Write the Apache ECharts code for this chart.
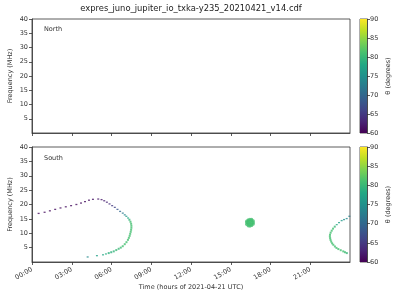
<!DOCTYPE html>
<html>
<head>
<meta charset="utf-8">
<script src="https://cdn.jsdelivr.net/npm/echarts@6/dist/echarts.min.js"></script>
<style>html,body{margin:0;padding:0;background:#fff}#c{width:400px;height:300px}</style>
</head>
<body>
<div id="c"></div>
<script>
// ---- data ----
const titleText = 'expres_juno_jupiter_io_txka-y235_20210421_v14.cdf';
const xTicks = [0, 3, 6, 9, 12, 15, 18, 21];
const freqTicks = [5, 10, 15, 20, 25, 30, 35, 40];
const thetaTicks = [60, 65, 70, 75, 80, 85, 90];
const viridis = ['#440154','#482475','#414487','#355f8d','#2a788e','#21918c','#22a884','#44bf70','#7ad151','#bddf26','#fde725'];

// [time (h), frequency (MHz), theta (deg)]
const northData = [];
const southArcA = [
  [0.5,16.9,61],[0.95,17.3,61],[1.35,17.8,61],[1.75,18.3,61],[2.15,18.8,61],[2.55,19.2,61],
  [2.95,19.6,61],[3.35,20.0,61],[3.7,20.5,61],[4.0,21.0,61],[4.3,21.5,61],[4.6,21.8,61.5],
  [5.0,21.9,62],[5.25,21.7,62],[5.45,21.3,62.5],[5.65,20.8,63],[5.85,20.2,64],[6.05,19.6,65],
  [6.25,19.0,66],[6.45,18.3,68],[6.65,17.6,70],[6.85,17.0,72],[7.0,16.4,74],[7.12,15.9,76],
  [7.25,15.3,78],[7.35,14.7,79.5],[7.43,14.0,81],[7.48,13.3,81],[7.5,12.6,81],[7.5,11.9,81],
  [7.48,11.2,81],[7.45,10.5,81],[7.41,9.8,81],[7.37,9.1,81],[7.31,8.4,81],[7.24,7.7,81],
  [7.13,6.9,81],[7.0,6.2,81],[6.85,5.5,81],[6.7,5.0,80.5],[6.54,4.6,80],[6.36,4.15,80],
  [6.17,3.7,79.5],[5.98,3.4,79],[5.79,3.1,79],[5.58,2.8,78.5],[5.36,2.5,78],[4.9,2.2,77],[4.2,1.75,74]
];
const southBlob = [
  [16.2,13.1,81],[16.2,13.7,81],[16.2,14.2,81],
  [16.32,12.6,81],[16.32,13.2,81],[16.32,13.7,81],[16.32,14.3,81],[16.32,14.7,81],
  [16.45,12.5,81],[16.45,13.0,81],[16.45,13.6,81],[16.45,14.2,81],[16.45,14.8,81],
  [16.58,12.7,81],[16.58,13.2,81],[16.58,13.8,81],[16.58,14.4,81],[16.58,14.8,81],
  [16.7,13.2,81],[16.7,13.7,81],[16.7,14.3,81]
];
const southArcB = [
  [23.95,15.9,73],[23.75,15.1,74],[23.55,14.75,75],[23.37,14.4,76],[23.17,13.7,77],[23.0,13.0,78.5],
  [22.85,12.3,80],[22.72,11.6,81],[22.62,10.9,81],[22.54,10.2,81],[22.49,9.5,81],[22.48,8.9,81],
  [22.5,8.3,81],[22.53,7.7,81],[22.58,7.1,81],[22.65,6.5,81],[22.74,6.0,81],[22.86,5.4,81],
  [22.98,4.9,81],[23.12,4.5,81],[23.3,4.1,81],[23.49,3.7,81],[23.62,3.4,80.5],[23.76,3.1,80]
];

// ---- chart ----
const FS = 6.5, TC = '#333', LC = '#333';
const chart = echarts.init(document.getElementById('c'), null, {renderer: 'canvas'});
const fmtTime = v => String(v).padStart(2, '0') + ':00';
const markSize = v => (v[2] >= 79 ? [2, 2] : [2, 1.3]);

function xAxisCfg(gi, showLabels) {
  return {
    type: 'value', gridIndex: gi, min: 0, max: 24, interval: 3,
    axisLine: {show: true, lineStyle: {color: LC, width: 0.8}},
    axisTick: {show: true, length: 3, customValues: xTicks, lineStyle: {color: LC, width: 0.8}},
    axisLabel: {show: showLabels, customValues: xTicks, formatter: fmtTime, rotate: 30,
      fontSize: FS, color: TC, margin: 7, fontFamily: 'DejaVu Sans'},
    splitLine: {show: false},
    name: showLabels ? 'Time (hours of 2021-04-21 UTC)' : '',
    nameLocation: 'middle', nameGap: 21.5, nameMoveOverlap: false,
    nameTextStyle: {fontSize: FS, color: TC, fontFamily: 'DejaVu Sans'}
  };
}
function yAxisCfg(gi) {
  return {
    type: 'value', gridIndex: gi, min: 0, max: 40, interval: 5,
    axisLine: {show: true, lineStyle: {color: LC, width: 0.8}},
    axisTick: {show: true, length: 3, customValues: freqTicks, lineStyle: {color: LC, width: 0.8}},
    axisLabel: {customValues: freqTicks, fontSize: FS, color: TC, margin: 4, fontFamily: 'DejaVu Sans'},
    splitLine: {show: false},
    name: 'Frequency (MHz)', nameLocation: 'middle', nameGap: 18, nameMoveOverlap: false,
    nameTextStyle: {fontSize: FS, color: TC, fontFamily: 'DejaVu Sans'}
  };
}
function cbXAxis(gi) {
  return {type: 'category', gridIndex: gi, data: ['cb'], show: false};
}
function cbYAxis(gi) {
  return {
    type: 'value', gridIndex: gi, min: 60, max: 90, interval: 5, position: 'right',
    axisLine: {show: true, lineStyle: {color: LC, width: 0.8}},
    axisTick: {show: true, length: 3, lineStyle: {color: LC, width: 0.8}},
    axisLabel: {fontSize: FS, color: TC, margin: 3, fontFamily: 'DejaVu Sans'},
    splitLine: {show: false},
    name: 'θ (degrees)', nameLocation: 'middle', nameGap: 17.5, nameRotate: 90, nameMoveOverlap: false,
    nameTextStyle: {fontSize: FS, color: TC, fontFamily: 'DejaVu Sans'}
  };
}
const grad = new echarts.graphic.LinearGradient(0, 1, 0, 0,
  viridis.map((c, i) => ({offset: i / (viridis.length - 1), color: c})));
function cbSeries(xi, stack) {
  return [
    {type: 'bar', xAxisIndex: xi, yAxisIndex: xi, stack: stack, barWidth: '100%',
     data: [thetaTicks[0]], itemStyle: {color: 'rgba(0,0,0,0)'}, silent: true},
    {type: 'bar', xAxisIndex: xi, yAxisIndex: xi, stack: stack, barWidth: '100%',
     data: [thetaTicks[thetaTicks.length - 1] - thetaTicks[0]], itemStyle: {color: grad}, silent: true}
  ];
}
const gridBase = {show: true, borderColor: LC, borderWidth: 0.8, backgroundColor: 'transparent',
  containLabel: false, outerBoundsMode: 'none'};

const option = {
  animation: false,
  backgroundColor: '#fff',
  grid: [
    Object.assign({left: 32, top: 19, width: 318, height: 114}, gridBase),
    Object.assign({left: 32, top: 147, width: 318, height: 115}, gridBase),
    Object.assign({left: 360, top: 19, width: 7, height: 114}, gridBase),
    Object.assign({left: 360, top: 147, width: 7, height: 115}, gridBase)
  ],
  xAxis: [xAxisCfg(0, false), xAxisCfg(1, true), cbXAxis(2), cbXAxis(3)],
  yAxis: [yAxisCfg(0), yAxisCfg(1), cbYAxis(2), cbYAxis(3)],
  visualMap: [{
    type: 'continuous', show: false, min: 60, max: 90, dimension: 2,
    seriesIndex: [0, 1, 2, 3], inRange: {color: viridis}
  }],
  series: [
    {type: 'scatter', xAxisIndex: 0, yAxisIndex: 0, data: northData, symbol: 'rect', symbolSize: markSize},
    {type: 'scatter', xAxisIndex: 1, yAxisIndex: 1, data: southArcA, symbol: 'rect', symbolSize: markSize},
    {type: 'scatter', xAxisIndex: 1, yAxisIndex: 1, data: southBlob, symbol: 'circle', symbolSize: 3.2},
    {type: 'scatter', xAxisIndex: 1, yAxisIndex: 1, data: southArcB, symbol: 'rect', symbolSize: markSize},
    ...cbSeries(2, 'cb1'),
    ...cbSeries(3, 'cb2')
  ],
  graphic: [
    {type: 'text', x: 191, y: 5, style: {text: titleText, fontSize: 8.4, fill: '#222',
      fontFamily: 'DejaVu Sans', textAlign: 'center'}},
    {type: 'text', x: 44, y: 26, style: {text: 'North', fontSize: FS, fill: TC, fontFamily: 'DejaVu Sans'}},
    {type: 'text', x: 44, y: 155, style: {text: 'South', fontSize: FS, fill: TC, fontFamily: 'DejaVu Sans'}}
  ]
};
chart.setOption(option);
</script>
</body>
</html>
